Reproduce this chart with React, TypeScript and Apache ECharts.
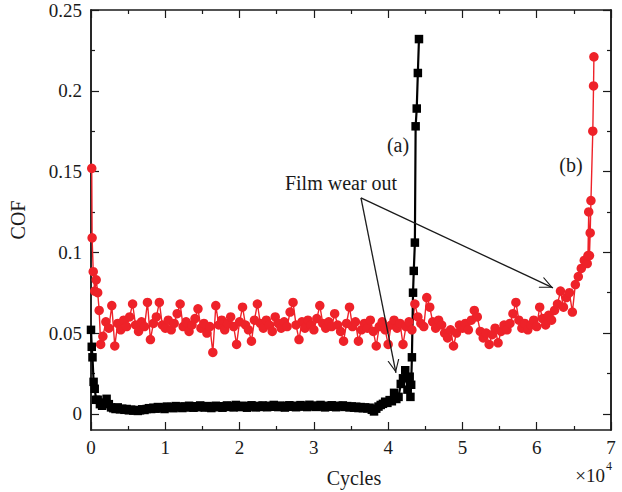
import React, { useEffect, useRef } from "react";
import * as echarts from "echarts";

// ---------- data (COF vs cycles, x in units of 10^4 cycles) ----------
const Y_MAJOR = [0, 0.05, 0.1, 0.15, 0.2, 0.25];
const Y_MINOR = [0.025, 0.075, 0.125, 0.175, 0.225];

// (b) red curve
const RED_HEAD: [number, number][] = [
  [0.01, 0.152], [0.015, 0.109], [0.03, 0.088], [0.05, 0.076], [0.07, 0.083],
  [0.09, 0.075], [0.11, 0.064], [0.13, 0.043],
];
const RED_BAND_START = 0.16;
const RED_BAND_STEP = 0.04;
const RED_BAND: number[] = [
  0.048, 0.057, 0.053, 0.067, 0.042, 0.056, 0.052, 0.058, 0.054, 0.060,
  0.068, 0.055, 0.051, 0.057, 0.054, 0.069, 0.046, 0.056, 0.060, 0.069,
  0.055, 0.053, 0.058, 0.052, 0.056, 0.062, 0.068, 0.054, 0.057, 0.051,
  0.055, 0.059, 0.065, 0.053, 0.056, 0.050, 0.054, 0.038, 0.067, 0.055,
  0.058, 0.052, 0.056, 0.060, 0.054, 0.043, 0.057, 0.066, 0.055, 0.052,
  0.045, 0.058, 0.068, 0.056, 0.053, 0.058, 0.055, 0.051, 0.060, 0.056,
  0.053, 0.057, 0.054, 0.063, 0.069, 0.055, 0.046, 0.057, 0.053, 0.058,
  0.055, 0.052, 0.059, 0.067, 0.056, 0.053, 0.057, 0.054, 0.062, 0.055,
  0.051, 0.045, 0.056, 0.066, 0.054, 0.057, 0.045, 0.052, 0.056, 0.053,
  0.058, 0.051, 0.042, 0.054, 0.057, 0.052, 0.043, 0.055, 0.058, 0.053,
  0.056, 0.043, 0.054, 0.057, 0.052, 0.068, 0.060, 0.056, 0.054, 0.072,
  0.066, 0.057, 0.053, 0.058, 0.055, 0.050, 0.047, 0.052, 0.042, 0.050,
  0.055, 0.053, 0.056, 0.052, 0.058, 0.064, 0.060, 0.051, 0.047, 0.050,
  0.043, 0.049, 0.053, 0.044, 0.051, 0.055, 0.052, 0.056, 0.062, 0.069,
  0.058, 0.053, 0.056, 0.052, 0.055, 0.058, 0.054, 0.066, 0.059, 0.055,
  0.061, 0.058, 0.064, 0.068, 0.076, 0.066, 0.072, 0.075, 0.063, 0.080,
  0.085, 0.090, 0.095, 0.093,
];
const RED_TAIL: [number, number][] = [
  [6.69, 0.098], [6.70, 0.125], [6.71, 0.098], [6.72, 0.112], [6.73, 0.132],
  [6.755, 0.175], [6.765, 0.203], [6.77, 0.221],
];

// (a) black curve
const BLACK_HEAD: [number, number][] = [
  [0.0, 0.052], [0.01, 0.0415], [0.02, 0.035], [0.035, 0.0198], [0.05, 0.0155],
  [0.07, 0.0087], [0.09, 0.0087], [0.12, 0.006], [0.15, 0.005], [0.18, 0.007],
  [0.21, 0.0093], [0.24, 0.006],
];
const BLACK_BAND_START = 0.27;
const BLACK_BAND_STEP = 0.03;
const BLACK_BAND: number[] = [
  0.004, 0.0035, 0.003, 0.004, 0.0028, 0.0032, 0.0025, 0.003, 0.0022, 0.0026,
  0.002, 0.0024, 0.0018, 0.0022, 0.0028, 0.0024, 0.003, 0.0035, 0.003, 0.0038,
  0.0032, 0.0042, 0.0035, 0.004, 0.003, 0.0045, 0.0038, 0.0042, 0.0035, 0.0048,
  0.004, 0.0044, 0.0036, 0.0046, 0.004, 0.005, 0.0042, 0.0038, 0.0047, 0.0041,
  0.0052, 0.0044, 0.0039, 0.0048, 0.0042, 0.0036, 0.0046, 0.005, 0.0041, 0.0047,
  0.0038, 0.0045, 0.0052, 0.0043, 0.0048, 0.004, 0.0055, 0.0046, 0.0042, 0.005,
  0.0044, 0.0038, 0.0047, 0.0053, 0.0045, 0.004, 0.0049, 0.0043, 0.0052, 0.0046,
  0.0041, 0.005, 0.0044, 0.0055, 0.0047, 0.0042, 0.0051, 0.0045, 0.0039, 0.0048,
  0.0053, 0.0044, 0.005, 0.0041, 0.0047, 0.0054, 0.0045, 0.0049, 0.0042, 0.0056,
  0.0046, 0.0051, 0.0043, 0.0048, 0.0055, 0.0045, 0.004, 0.005, 0.0044, 0.0053,
  0.0047, 0.0041, 0.005, 0.0045, 0.0052, 0.0043, 0.0048, 0.004, 0.0046, 0.0038,
  0.0044, 0.0036, 0.0042, 0.0035, 0.004, 0.0033, 0.0038, 0.0025, 0.0015, 0.0032,
  0.0045, 0.0055, 0.0062, 0.0075, 0.0068, 0.0085, 0.0078, 0.013, 0.0092, 0.0105,
  0.0185, 0.022, 0.027, 0.015, 0.023,
];
const BLACK_TAIL: [number, number][] = [
  [4.30, 0.0105], [4.31, 0.018], [4.32, 0.035], [4.335, 0.075], [4.345, 0.0885],
  [4.36, 0.106], [4.37, 0.178], [4.385, 0.189], [4.40, 0.211], [4.415, 0.232],
];

// annotation arrows (data coords)
const ARROW_FROM: [number, number] = [3.634, 0.1337];
const ARROW_TO_A: [number, number] = [4.105, 0.0254];
const ARROW_TO_B: [number, number] = [6.219, 0.078];

const RED = "#ee2229";
const INK = "#1a1a1a";
const FONT = "Liberation Serif";
const ARROW_SYMBOL =
  "path://M5,0 L5.01,0 M0,20 L5,10 L10,20 L9,20 L5,12 L1,20 Z";

function band(start: number, step: number, ys: number[]): [number, number][] {
  return ys.map((y, i) => [+(start + i * step).toFixed(4), y]);
}

export default function App() {
  const ref = useRef<HTMLDivElement>(null);
  useEffect(() => {
    if (!ref.current) return;
    const chart = echarts.init(ref.current, undefined, { renderer: "svg" });
    const redData = [...RED_HEAD, ...band(RED_BAND_START, RED_BAND_STEP, RED_BAND), ...RED_TAIL];
    const blackData = [...BLACK_HEAD, ...band(BLACK_BAND_START, BLACK_BAND_STEP, BLACK_BAND), ...BLACK_TAIL];

    const axisLine = { show: true, onZero: false, lineStyle: { color: INK, width: 1.5 } };
    const tickStyle = { color: INK, width: 1.2 };
    const xAxisBase = {
      type: "value",
      min: 0,
      max: 7,
      interval: 1,
      axisLine,
      axisTick: { show: true, inside: true, length: 8, lineStyle: tickStyle },
      minorTick: { show: true, splitNumber: 2, length: 4, lineStyle: tickStyle },
      splitLine: { show: false },
      minorSplitLine: { show: false },
    };
    const yBase = {
      type: "value",
      min: -0.01,
      max: 0.25,
      splitLine: { show: false },
      axisLine,
    };
    const fmt = (v: number) => String(+Number(v).toFixed(3));

    chart.setOption({
      animation: false,
      grid: { left: 91, right: 11, top: 10, bottom: 62, containLabel: false },
      xAxis: [
        {
          ...xAxisBase,
          position: "bottom",
          axisLabel: { show: true, fontFamily: FONT, fontSize: 19, color: INK, margin: 8 },
        },
        { ...xAxisBase, position: "top", axisLabel: { show: false } },
      ],
      yAxis: [
        {
          ...yBase,
          position: "left",
          axisTick: { show: true, inside: true, length: 8, lineStyle: tickStyle, customValues: Y_MAJOR },
          axisLabel: {
            show: true, fontFamily: FONT, fontSize: 19, color: INK, margin: 9,
            customValues: Y_MAJOR, formatter: fmt,
          },
        },
        {
          ...yBase,
          position: "left",
          axisTick: { show: true, inside: true, length: 4, lineStyle: tickStyle, customValues: Y_MINOR },
          axisLabel: { show: false },
        },
        {
          ...yBase,
          position: "right",
          axisTick: { show: true, inside: true, length: 8, lineStyle: tickStyle, customValues: Y_MAJOR },
          axisLabel: { show: false },
        },
        {
          ...yBase,
          position: "right",
          axisTick: { show: true, inside: true, length: 4, lineStyle: tickStyle, customValues: Y_MINOR },
          axisLabel: { show: false },
        },
      ],
      series: [
        {
          name: "(b)",
          type: "line",
          xAxisIndex: 0,
          yAxisIndex: 0,
          data: redData,
          symbol: "circle",
          symbolSize: 9.5,
          showAllSymbol: true,
          itemStyle: { color: RED },
          lineStyle: { color: RED, width: 1.4 },
          emphasis: { disabled: true },
          markLine: {
            silent: true,
            symbol: ["none", ARROW_SYMBOL],
            symbolSize: [12, 26],
            lineStyle: { color: INK, width: 1.3, type: "solid" },
            itemStyle: { color: INK },
            label: { show: false },
            emphasis: { disabled: true },
            data: [
              [{ coord: ARROW_FROM }, { coord: ARROW_TO_A }],
              [{ coord: ARROW_FROM }, { coord: ARROW_TO_B }],
            ],
          },
        },
        {
          name: "(a)",
          type: "line",
          xAxisIndex: 0,
          yAxisIndex: 0,
          data: blackData,
          symbol: "rect",
          symbolSize: 8.5,
          showAllSymbol: true,
          itemStyle: { color: "#000" },
          lineStyle: { color: "#000", width: 2.2 },
          emphasis: { disabled: true },
        },
      ],
      graphic: [
        {
          type: "text", x: 18, y: 220, rotation: Math.PI / 2,
          style: { text: "COF", fontFamily: FONT, fontSize: 20, fill: INK, align: "center", verticalAlign: "middle" },
        },
        {
          type: "text", x: 354, y: 478,
          style: { text: "Cycles", fontFamily: FONT, fontSize: 20, fill: INK, align: "center", verticalAlign: "middle" },
        },
        {
          type: "text", x: 605, y: 475,
          style: { text: "×10", fontFamily: FONT, fontSize: 19, fill: INK, align: "right", verticalAlign: "middle" },
        },
        {
          type: "text", x: 606, y: 466,
          style: { text: "4", fontFamily: FONT, fontSize: 12, fill: INK, align: "left", verticalAlign: "middle" },
        },
        {
          type: "text", x: 398, y: 145,
          style: { text: "(a)", fontFamily: FONT, fontSize: 20, fill: INK, align: "center", verticalAlign: "middle" },
        },
        {
          type: "text", x: 571, y: 165,
          style: { text: "(b)", fontFamily: FONT, fontSize: 20, fill: INK, align: "center", verticalAlign: "middle" },
        },
        {
          type: "text", x: 341, y: 183,
          style: { text: "Film wear out", fontFamily: FONT, fontSize: 20, fill: INK, align: "center", verticalAlign: "middle" },
        },
      ],
    });
    return () => chart.dispose();
  }, []);
  return (
    <div
      ref={ref}
      style={{ position: "fixed", left: 0, top: 0, width: 622, height: 492, background: "#fff" }}
    />
  );
}
